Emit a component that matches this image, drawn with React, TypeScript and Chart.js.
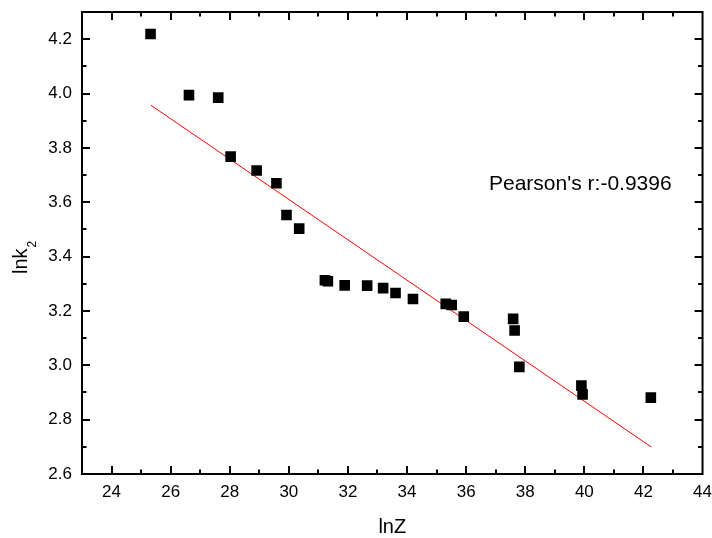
import React, { useEffect, useRef } from "react";
import { Chart, registerables } from "chart.js";

Chart.register(...registerables);

// ---- data ----
const lnZ = [25.32, 26.62, 27.61, 28.03, 28.91, 29.58, 29.92, 30.35, 31.22, 31.32, 31.89, 32.65, 33.19, 33.61, 34.2, 35.31, 35.51, 35.92, 37.59, 37.64, 37.8, 39.9, 39.94, 42.25];
const lnk2 = [4.219, 3.994, 3.985, 3.768, 3.717, 3.67, 3.553, 3.503, 3.313, 3.309, 3.294, 3.293, 3.284, 3.266, 3.244, 3.226, 3.222, 3.179, 3.171, 3.128, 2.994, 2.925, 2.893, 2.881];
const fitZ = [25.33, 42.27];
const fitK = [3.957, 2.699];

const xTicks = [24, 26, 28, 30, 32, 34, 36, 38, 40, 42, 44];
const xMinor = [25, 27, 29, 31, 33, 35, 37, 39, 41, 43];
const yTicks = [2.6, 2.8, 3.0, 3.2, 3.4, 3.6, 3.8, 4.0, 4.2];
const yMinor = [2.7, 2.9, 3.1, 3.3, 3.5, 3.7, 3.9, 4.1];

const xTitle = "lnZ";
const yTitleMain = "lnk";
const yTitleSub = "2";
const annotation = "Pearson's r:-0.9396";

const FONT = "'Liberation Sans', Arial, sans-serif";

const decorPlugin = {
  id: "decor",
  afterDraw(chart: any) {
    const { ctx, chartArea } = chart;
    const { left, right, top, bottom } = chartArea;
    const xs = chart.scales.x;
    const ys = chart.scales.y;
    ctx.save();
    ctx.strokeStyle = "#000";
    ctx.lineWidth = 2;
    ctx.lineCap = "butt";
    // frame
    ctx.strokeRect(left, top, right - left, bottom - top);
    const MAJ = 8;
    const MIN = 4.5;
    ctx.beginPath();
    const vTick = (v: number, len: number) => {
      const px = Math.round(xs.getPixelForValue(v));
      if (px <= left + 1 || px >= right - 1) return;
      ctx.moveTo(px, bottom);
      ctx.lineTo(px, bottom - len);
      ctx.moveTo(px, top);
      ctx.lineTo(px, top + len);
    };
    const hTick = (v: number, len: number) => {
      const py = Math.round(ys.getPixelForValue(v));
      if (py <= top + 1 || py >= bottom - 1) return;
      ctx.moveTo(left, py);
      ctx.lineTo(left + len, py);
      ctx.moveTo(right, py);
      ctx.lineTo(right - len, py);
    };
    xTicks.forEach((v) => vTick(v, MAJ));
    xMinor.forEach((v) => vTick(v, MIN));
    yTicks.forEach((v) => hTick(v, MAJ));
    yMinor.forEach((v) => hTick(v, MIN));
    ctx.stroke();

    ctx.fillStyle = "#000";
    // x title
    ctx.font = `20px ${FONT}`;
    ctx.textAlign = "center";
    ctx.textBaseline = "alphabetic";
    ctx.fillText(xTitle, (left + right) / 2, 533);

    // y title (rotated, with subscript)
    ctx.save();
    ctx.translate(27, 274);
    ctx.rotate(-Math.PI / 2);
    ctx.textAlign = "left";
    ctx.font = `20px ${FONT}`;
    ctx.fillText(yTitleMain, 0, 0);
    const w = ctx.measureText(yTitleMain).width;
    ctx.font = `12px ${FONT}`;
    ctx.fillText(yTitleSub, w + 1, 9);
    ctx.restore();

    // annotation
    ctx.font = `21px ${FONT}`;
    ctx.textAlign = "left";
    ctx.textBaseline = "alphabetic";
    ctx.fillText(annotation, 489, 190);
    ctx.restore();
  },
};

export default function App() {
  const ref = useRef<HTMLCanvasElement | null>(null);
  useEffect(() => {
    if (!ref.current) return;
    const chart = new Chart(ref.current, {
      type: "scatter",
      data: {
        datasets: [
          {
            label: "data",
            data: lnZ.map((x, i) => ({ x, y: lnk2[i] })),
            pointStyle: "rect",
            pointRadius: 7.5,
            pointHoverRadius: 7.5,
            backgroundColor: "#000",
            borderColor: "#000",
            borderWidth: 0,
            showLine: false,
          },
          {
            label: "fit",
            data: fitZ.map((x, i) => ({ x, y: fitK[i] })),
            showLine: true,
            borderColor: "#ff0000",
            borderWidth: 1,
            pointRadius: 0,
            fill: false,
          },
        ],
      },
      options: {
        animation: false,
        responsive: false,
        devicePixelRatio: 1,
        layout: { padding: { top: 12, right: 9, left: 0, bottom: 0 } },
        plugins: { legend: { display: false }, tooltip: { enabled: false } },
        scales: {
          x: {
            type: "linear",
            min: 23,
            max: 44,
            grid: { display: false, drawTicks: true, tickLength: 8 },
            border: { display: false },
            ticks: {
              color: "#000",
              padding: 0,
              font: { family: FONT, size: 17 },
              callback: (v: any) => String(v),
            },
            afterBuildTicks: (s: any) => {
              s.ticks = xTicks.map((value) => ({ value }));
            },
            afterFit: (s: any) => {
              s.height = 64;
            },
          },
          y: {
            type: "linear",
            min: 2.6,
            max: 4.3,
            grid: { display: false, drawTicks: true, tickLength: 10 },
            border: { display: false },
            ticks: {
              color: "#000",
              padding: 0,
              font: { family: FONT, size: 17 },
              callback: (v: any) => Number(v).toFixed(1),
            },
            afterBuildTicks: (s: any) => {
              s.ticks = yTicks.map((value) => ({ value }));
            },
            afterFit: (s: any) => {
              s.width = 82;
            },
          },
        },
      },
      plugins: [decorPlugin],
    });
    return () => chart.destroy();
  }, []);
  return (
    <div style={{ position: "absolute", left: 0, top: 0, width: 712, height: 538, background: "#fff" }}>
      <canvas ref={ref} width={712} height={538} style={{ display: "block" }} />
    </div>
  );
}
